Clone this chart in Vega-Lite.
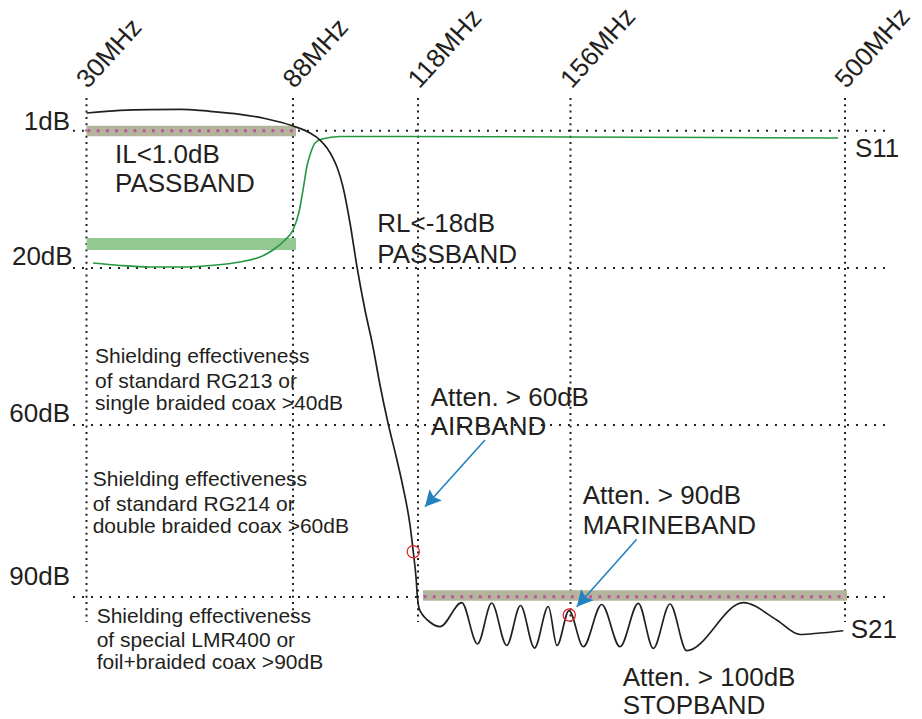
{
  "$schema": "https://vega.github.io/schema/vega-lite/v6.json",
  "width": 922,
  "height": 719,
  "autosize": {"type": "none"},
  "padding": 0,
  "background": "white",
  "config": {"view": {"stroke": null}},
  "datasets": {
    "vgrid": [{"f": 30, "t": "30MHz"}, {"f": 88, "t": "88MHz"}, {"f": 118, "t": "118MHz"}, {"f": 156, "t": "156MHz"}, {"f": 500, "t": "500MHz"}],
    "hgrid": [{"db": 1}, {"db": 20}, {"db": 60}, {"db": 90}],
    "tanBands": [{"f": 30, "f2": 88.72, "db": 1.04}, {"f": 119.25, "f2": 502.5, "db": 89.74}],
    "dotLines": [{"f": 30.3, "f2": 88.6, "db": 1.0}, {"f": 119.4, "f2": 502.3, "db": 89.95}],
    "greenBands": [{"f": 30, "f2": 88.72, "db": 16.68}],
    "s21": [{"f":30,"db":-1.45},{"f":39.41,"db":-1.8},{"f":47.84,"db":-1.93},{"f":56.26,"db":-1.96},{"f":64.69,"db":-1.68},{"f":73.11,"db":-1.27},{"f":80.14,"db":-0.69},{"f":88,"db":0.35},{"f":92.08,"db":1.32},{"f":94.48,"db":2.29},{"f":96.16,"db":3.39},{"f":97.6,"db":4.78},{"f":98.56,"db":6.02},{"f":100,"db":8.79},{"f":101.68,"db":13.77},{"f":103.36,"db":19.86},{"f":105.28,"db":30.7},{"f":107.2,"db":40.13},{"f":108.88,"db":49.81},{"f":110.8,"db":59.49},{"f":112.72,"db":65.41},{"f":114.4,"db":70.81},{"f":116.08,"db":77.44},{"f":116.87,"db":82.15},{"f":117.52,"db":86.51},{"f":117.88,"db":90.17},{"f":118.25,"db":91.92},{"f":119.0,"db":92.97},{"f":120.49,"db":94.1},{"f":123.48,"db":95.18},{"f":128.89,"db":90.99},{"f":132.83,"db":98.2},{"f":136.36,"db":91.05},{"f":140.1,"db":98.46},{"f":143.54,"db":91.48},{"f":147.03,"db":98.9},{"f":150.47,"db":91.66},{"f":152.64,"db":98.46},{"f":155.63,"db":92.36},{"f":172.04,"db":98.67},{"f":195.1,"db":91.31},{"f":218.03,"db":98.67},{"f":240.97,"db":91.1},{"f":259.76,"db":98.95},{"f":280.69,"db":91.22},{"f":301.62,"db":99.37},{"f":372.55,"db":90.99},{"f":414.41,"db":94.01},{"f":443.61,"db":96.54},{"f":468.67,"db":96.28},{"f":497.87,"db":95.88}],
    "s11": [{"f":31.83,"db":19.31},{"f":39.41,"db":19.65},{"f":47.84,"db":19.86},{"f":56.26,"db":19.86},{"f":64.69,"db":19.65},{"f":73.11,"db":19.17},{"f":78.73,"db":18.48},{"f":82.38,"db":17.51},{"f":85.75,"db":16.12},{"f":88,"db":14.74},{"f":89.44,"db":12.25},{"f":90.4,"db":9.21},{"f":91.36,"db":5.88},{"f":92.08,"db":4.36},{"f":93.28,"db":2.7},{"f":94.96,"db":2.15},{"f":99.28,"db":1.8},{"f":113.68,"db":1.8},{"f":156,"db":1.87},{"f":491.23,"db":2.01}],
    "markers": [{"f": 116.87, "db": 82.1}, {"f": 155.7, "db": 93.14}],
    "arrows": [{"f": 134.7, "db": 62.62, "f2": 119.74, "db2": 74.25}, {"f": 238.96, "db": 79.94, "f2": 163.77, "db2": 91.69}],
    "bigText": [
      {"f": 38.0, "db": 5.47, "t": "IL<1.0dB"},
      {"f": 38.0, "db": 9.44, "t": "PASSBAND"},
      {"f": 108.23, "db": 14.98, "t": "RL<-18dB"},
      {"f": 108.23, "db": 19.35, "t": "PASSBAND"},
      {"f": 121.16, "db": 55.16, "t": "Atten. > 60dB"},
      {"f": 121.16, "db": 61.74, "t": "AIRBAND"},
      {"f": 171.29, "db": 73.83, "t": "Atten. > 90dB"},
      {"f": 171.29, "db": 79.01, "t": "MARINEBAND"},
      {"f": 221.42, "db": 105.52, "t": "Atten. > 100dB"},
      {"f": 221.42, "db": 110.4, "t": "STOPBAND"},
      {"f": 512.53, "db": 4.6, "t": "S11"},
      {"f": 507.14, "db": 97.2, "t": "S21"}
    ],
    "smallText": [
      {"f": 32.39, "db": 44.13, "t": "Shielding effectiveness"},
      {"f": 32.39, "db": 50.65, "t": "of standard RG213 or"},
      {"f": 32.39, "db": 56.18, "t": "single braided coax >40dB"},
      {"f": 31.74, "db": 70.64, "t": "Shielding effectiveness"},
      {"f": 31.74, "db": 74.95, "t": "of standard RG214 or"},
      {"f": 31.74, "db": 78.78, "t": "double braided coax >60dB"},
      {"f": 32.86, "db": 94.48, "t": "Shielding effectiveness"},
      {"f": 32.86, "db": 98.67, "t": "of special LMR400 or"},
      {"f": 32.86, "db": 102.61, "t": "foil+braided coax >90dB"}
    ],
    "yLabels": [
      {"f": 25.37, "db": 0.9, "t": "1dB"},
      {"f": 26.12, "db": 19.59, "t": "20dB"},
      {"f": 25.37, "db": 59.16, "t": "60dB"},
      {"f": 25.37, "db": 87.91, "t": "90dB"}
    ]
  },
  "layer": [
    {
      "data": {"name": "vgrid"},
      "mark": {"type": "rule", "color": "#231f20", "strokeWidth": 2, "strokeDash": [2, 4.3], "strokeCap": "butt"},
      "encoding": {
        "x": {"field": "f", "type": "quantitative",
              "scale": {"type": "linear", "domain": [30, 88, 118, 156, 500], "range": [86.5, 293, 418, 570.5, 845], "nice": false, "zero": false}, "axis": null},
        "y": {"datum": -3.525, "type": "quantitative",
              "scale": {"type": "linear", "domain": [1, 20, 60, 90], "range": [130.7, 268, 425, 597], "nice": false, "zero": false}, "axis": null},
        "y2": {"datum": 94.36}
      }
    },
    {
      "data": {"name": "vgrid"},
      "mark": {"type": "text", "align": "left", "baseline": "alphabetic", "angle": -48, "dx": 2, "font": "Liberation Sans", "fontSize": 26, "color": "#231f20"},
      "encoding": {
        "x": {"field": "f", "type": "quantitative", "scale": {"type": "linear", "domain": [30, 88, 118, 156, 500], "range": [86.5, 293, 418, 570.5, 845], "nice": false, "zero": false}, "axis": null},
        "y": {"datum": -4.5, "type": "quantitative", "scale": {"type": "linear", "domain": [1, 20, 60, 90], "range": [130.7, 268, 425, 597], "nice": false, "zero": false}, "axis": null},
        "text": {"field": "t", "type": "nominal"}
      }
    },
    {
      "data": {"name": "hgrid"},
      "mark": {"type": "rule", "color": "#231f20", "strokeWidth": 2, "strokeDash": [2, 7], "strokeCap": "butt"},
      "encoding": {
        "x": {"datum": 26.2, "type": "quantitative", "scale": {"type": "linear", "domain": [30, 88, 118, 156, 500], "range": [86.5, 293, 418, 570.5, 845], "nice": false, "zero": false}, "axis": null},
        "x2": {"datum": 558.9},
        "y": {"field": "db", "type": "quantitative", "scale": {"type": "linear", "domain": [1, 20, 60, 90], "range": [130.7, 268, 425, 597], "nice": false, "zero": false}, "axis": null}
      }
    },
    {
      "data": {"name": "tanBands"},
      "mark": {"type": "rule", "color": "#b4b49c", "strokeWidth": 10.5, "strokeCap": "butt"},
      "encoding": {
        "x": {"field": "f", "type": "quantitative", "scale": {"type": "linear", "domain": [30, 88, 118, 156, 500], "range": [86.5, 293, 418, 570.5, 845], "nice": false, "zero": false}, "axis": null},
        "x2": {"field": "f2"},
        "y": {"field": "db", "type": "quantitative", "scale": {"type": "linear", "domain": [1, 20, 60, 90], "range": [130.7, 268, 425, 597], "nice": false, "zero": false}, "axis": null}
      }
    },
    {
      "data": {"name": "greenBands"},
      "mark": {"type": "rule", "color": "#93c993", "strokeWidth": 12, "strokeCap": "butt"},
      "encoding": {
        "x": {"field": "f", "type": "quantitative", "scale": {"type": "linear", "domain": [30, 88, 118, 156, 500], "range": [86.5, 293, 418, 570.5, 845], "nice": false, "zero": false}, "axis": null},
        "x2": {"field": "f2"},
        "y": {"field": "db", "type": "quantitative", "scale": {"type": "linear", "domain": [1, 20, 60, 90], "range": [130.7, 268, 425, 597], "nice": false, "zero": false}, "axis": null}
      }
    },
    {
      "data": {"name": "dotLines"},
      "mark": {"type": "rule", "color": "#c0409f", "strokeWidth": 3, "strokeDash": [2.8, 6.4], "strokeCap": "butt", "opacity": 0.85},
      "encoding": {
        "x": {"field": "f", "type": "quantitative", "scale": {"type": "linear", "domain": [30, 88, 118, 156, 500], "range": [86.5, 293, 418, 570.5, 845], "nice": false, "zero": false}, "axis": null},
        "x2": {"field": "f2"},
        "y": {"field": "db", "type": "quantitative", "scale": {"type": "linear", "domain": [1, 20, 60, 90], "range": [130.7, 268, 425, 597], "nice": false, "zero": false}, "axis": null}
      }
    },
    {
      "data": {"name": "s11"},
      "mark": {"type": "line", "color": "#24983f", "strokeWidth": 1.6, "interpolate": "monotone"},
      "encoding": {
        "x": {"field": "f", "type": "quantitative", "scale": {"type": "linear", "domain": [30, 88, 118, 156, 500], "range": [86.5, 293, 418, 570.5, 845], "nice": false, "zero": false}, "axis": null},
        "y": {"field": "db", "type": "quantitative", "scale": {"type": "linear", "domain": [1, 20, 60, 90], "range": [130.7, 268, 425, 597], "nice": false, "zero": false}, "axis": null}
      }
    },
    {
      "data": {"name": "s21"},
      "mark": {"type": "line", "color": "#231f20", "strokeWidth": 1.7, "interpolate": "monotone"},
      "encoding": {
        "x": {"field": "f", "type": "quantitative", "scale": {"type": "linear", "domain": [30, 88, 118, 156, 500], "range": [86.5, 293, 418, 570.5, 845], "nice": false, "zero": false}, "axis": null},
        "y": {"field": "db", "type": "quantitative", "scale": {"type": "linear", "domain": [1, 20, 60, 90], "range": [130.7, 268, 425, 597], "nice": false, "zero": false}, "axis": null}
      }
    },
    {
      "data": {"name": "markers"},
      "mark": {"type": "point", "shape": "circle", "filled": false, "color": "#e3262b", "strokeWidth": 1.3, "size": 150, "opacity": 1},
      "encoding": {
        "x": {"field": "f", "type": "quantitative", "scale": {"type": "linear", "domain": [30, 88, 118, 156, 500], "range": [86.5, 293, 418, 570.5, 845], "nice": false, "zero": false}, "axis": null},
        "y": {"field": "db", "type": "quantitative", "scale": {"type": "linear", "domain": [1, 20, 60, 90], "range": [130.7, 268, 425, 597], "nice": false, "zero": false}, "axis": null}
      }
    },
    {
      "data": {"name": "arrows"},
      "mark": {"type": "rule", "color": "#2381bf", "strokeWidth": 1.6},
      "encoding": {
        "x": {"field": "f", "type": "quantitative", "scale": {"type": "linear", "domain": [30, 88, 118, 156, 500], "range": [86.5, 293, 418, 570.5, 845], "nice": false, "zero": false}, "axis": null},
        "x2": {"field": "f2"},
        "y": {"field": "db", "type": "quantitative", "scale": {"type": "linear", "domain": [1, 20, 60, 90], "range": [130.7, 268, 425, 597], "nice": false, "zero": false}, "axis": null},
        "y2": {"field": "db2"}
      }
    },
    {
      "data": {"name": "arrows"},
      "mark": {"type": "point", "shape": "M0,0L-0.52,1L0,0.82L0.52,1Z", "filled": true, "color": "#2381bf", "size": 1024, "angle": 222, "opacity": 1, "strokeWidth": 0},
      "encoding": {
        "x": {"field": "f2", "type": "quantitative", "scale": {"type": "linear", "domain": [30, 88, 118, 156, 500], "range": [86.5, 293, 418, 570.5, 845], "nice": false, "zero": false}, "axis": null},
        "y": {"field": "db2", "type": "quantitative", "scale": {"type": "linear", "domain": [1, 20, 60, 90], "range": [130.7, 268, 425, 597], "nice": false, "zero": false}, "axis": null}
      }
    },
    {
      "data": {"name": "bigText"},
      "mark": {"type": "text", "align": "left", "baseline": "alphabetic", "font": "Liberation Sans", "fontSize": 26, "color": "#231f20"},
      "encoding": {
        "x": {"field": "f", "type": "quantitative", "scale": {"type": "linear", "domain": [30, 88, 118, 156, 500], "range": [86.5, 293, 418, 570.5, 845], "nice": false, "zero": false}, "axis": null},
        "y": {"field": "db", "type": "quantitative", "scale": {"type": "linear", "domain": [1, 20, 60, 90], "range": [130.7, 268, 425, 597], "nice": false, "zero": false}, "axis": null},
        "text": {"field": "t", "type": "nominal"}
      }
    },
    {
      "data": {"name": "smallText"},
      "mark": {"type": "text", "align": "left", "baseline": "alphabetic", "font": "Liberation Sans", "fontSize": 21, "color": "#231f20"},
      "encoding": {
        "x": {"field": "f", "type": "quantitative", "scale": {"type": "linear", "domain": [30, 88, 118, 156, 500], "range": [86.5, 293, 418, 570.5, 845], "nice": false, "zero": false}, "axis": null},
        "y": {"field": "db", "type": "quantitative", "scale": {"type": "linear", "domain": [1, 20, 60, 90], "range": [130.7, 268, 425, 597], "nice": false, "zero": false}, "axis": null},
        "text": {"field": "t", "type": "nominal"}
      }
    },
    {
      "data": {"name": "yLabels"},
      "mark": {"type": "text", "align": "right", "baseline": "alphabetic", "font": "Liberation Sans", "fontSize": 26, "color": "#231f20"},
      "encoding": {
        "x": {"field": "f", "type": "quantitative", "scale": {"type": "linear", "domain": [30, 88, 118, 156, 500], "range": [86.5, 293, 418, 570.5, 845], "nice": false, "zero": false}, "axis": null},
        "y": {"field": "db", "type": "quantitative", "scale": {"type": "linear", "domain": [1, 20, 60, 90], "range": [130.7, 268, 425, 597], "nice": false, "zero": false}, "axis": null},
        "text": {"field": "t", "type": "nominal"}
      }
    }
  ]
}
